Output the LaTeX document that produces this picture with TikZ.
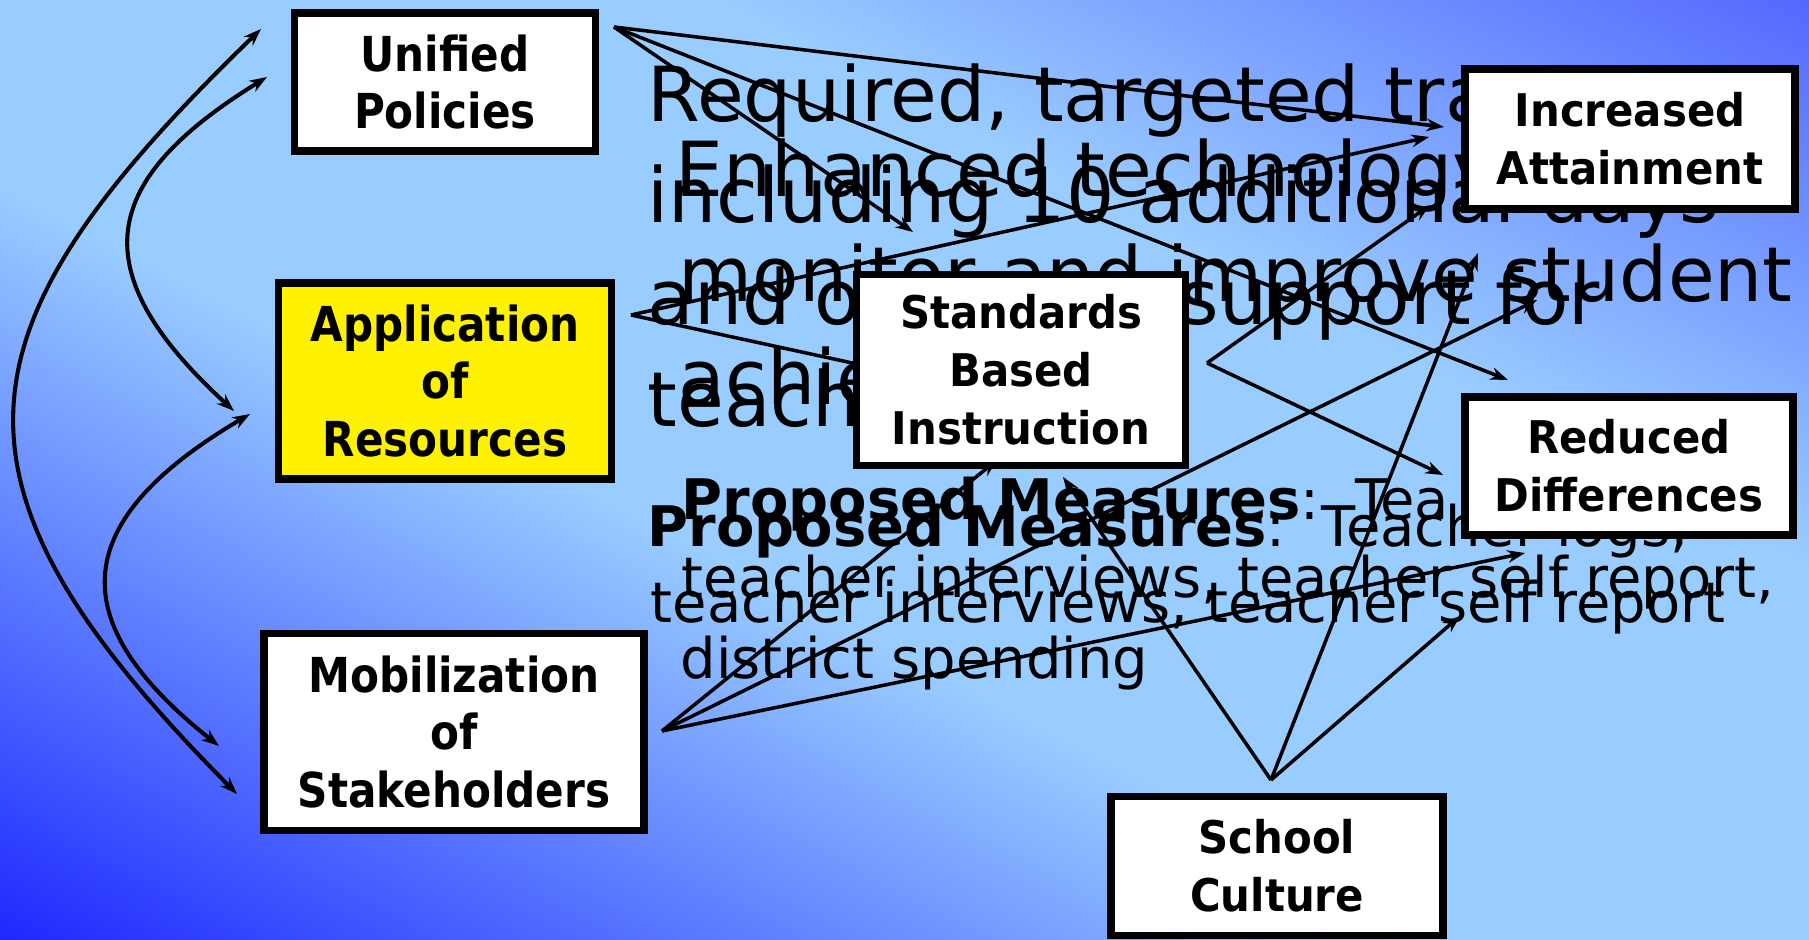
\documentclass[tikz,border=0pt]{standalone}
\usepackage{fontspec}
\setmainfont{DejaVu Sans}
\newfontfamily\lboxfont[FakeStretch=0.875]{DejaVu Sans}
\newfontfamily\rboxfont[FakeStretch=0.93]{DejaVu Sans}
\usetikzlibrary{arrows.meta}
\usepackage{xcolor}
\definecolor{bgdeep}{RGB}{30,40,255}
\definecolor{bglight}{RGB}{153,204,255}
\definecolor{bgtop}{RGB}{84,104,255}
\pgfdeclareverticalshading{slidebg}{100bp}{color(0bp)=(bgdeep); color(25bp)=(bgdeep); color(45bp)=(bglight); color(60bp)=(bglight); color(75bp)=(bgtop); color(100bp)=(bgtop)}

\begin{document}
\begin{tikzpicture}[x=0.01cm,y=-0.01cm]
\tikzset{
  lbox/.style={draw,line width=2.1pt,fill=white,align=center,inner sep=0pt,font=\lboxfont\bfseries\fontsize{13.7}{16.4}\selectfont},
  rbox/.style={draw,line width=2.1pt,fill=white,align=center,inner sep=0pt,font=\rboxfont\bfseries\fontsize{12.8}{16.5}\selectfont},
  bigtxt/.style={anchor=base west,inner sep=0pt,font=\fontsize{21.6}{26}\selectfont},
  midtxt/.style={anchor=base west,inner sep=0pt,font=\fontsize{15.9}{19}\selectfont},
  cause/.style={-{Stealth[length=5pt,width=3.6pt]},line width=1pt},
  swing/.style={{Stealth[length=5pt,width=3.6pt]}-{Stealth[length=5pt,width=3.6pt]},line width=1.15pt},
}
\useasboundingbox (0,0) rectangle (1809,940);
% slide background, dark in the lower left corner
\begin{scope}
\clip (0,0) rectangle (1809,940);
\begin{scope}[x=1cm,y=1cm,transform canvas={cm={18.09,-9.40,18.09,9.40,(0cm,-9.40cm)}}]
\shade[shading=slidebg] (-0.7,0) rectangle (0.7,1);
\end{scope}
\end{scope}

% text of the slide, two builds on top of each other
\node[bigtxt] (t-req) at (647,122) {Required, targeted tra};
\node[bigtxt] (t-incl) at (647,223) {including 10 additional days};
\node[bigtxt] (t-and) at (647,325) {and o};
\node[bigtxt] (t-supp) at (1179,325) {support for};
\node[bigtxt] (t-teach) at (647,427) {teach};
\node[bigtxt] (t-enh) at (675,197) {Enhanced technology};
\node[bigtxt] (t-mon) at (678,302) {monitor and improve student};
\node[bigtxt] (t-ach) at (678,405) {achie};
\node[midtxt] (t-pm1) at (681,520) {\textbf{Proposed Measures}:\ \ Tea};
\node[midtxt] (t-pm2) at (681,597) {teacher interviews, teacher self report,};
\node[midtxt] (t-pm3) at (680,678) {district spending};
\node[midtxt] (t-pm4) at (647,547) {\textbf{Proposed Measures}:\ \ Teacher logs,};
\node[midtxt] (t-pm5) at (650,623) {teacher interviews, teacher self report};

% ends of the arrows
\coordinate (up-o) at (614,27);
\coordinate (ar-o) at (631,315);
\coordinate (ms-o) at (662,731);
\coordinate (sbi-o) at (1207,363);
\coordinate (sc-o) at (1271,780);
\coordinate (ia-t1) at (1444,127);
\coordinate (ia-t2) at (1429,137);
\coordinate (ia-t3) at (1430,205);
\coordinate (ia-t4) at (1537,300);
\coordinate (ia-t5) at (1478,253);
\coordinate (sbi-t1) at (913,232);
\coordinate (sbi-t2) at (880,369);
\coordinate (sbi-t3) at (997,460);
\coordinate (sbi-t4) at (1063,477);
\coordinate (rd-t1) at (1508,380);
\coordinate (rd-t2) at (1443,475);
\coordinate (rd-t3) at (1525,553);
\coordinate (rd-t4) at (1460,616);
\coordinate (up-a) at (261,29);
\coordinate (up-b) at (267,77);
\coordinate (ar-a) at (234,411);
\coordinate (ar-b) at (250,414);
\coordinate (ms-a) at (219,746);
\coordinate (ms-b) at (237,794);

% these two run under the box
\draw[cause] (ar-o) -- (sbi-t2);
\draw[cause] (ms-o) -- (sbi-t3);

\node[lbox,minimum width=3.01cm,minimum height=1.38cm] (up) at (445,82) {Unified\\Policies};
\node[lbox,fill=yellow,minimum width=3.33cm,minimum height=1.96cm] (ar) at (445,381) {Application\\of\\Resources};
\node[lbox,minimum width=3.80cm,minimum height=1.97cm] (ms) at (454,732) {Mobilization\\of\\Stakeholders};
\node[rbox,minimum width=3.29cm,minimum height=1.91cm] (sbi) at (1021,370) {Standards\\Based\\Instruction};
\node[rbox,minimum width=3.30cm,minimum height=1.40cm] (ia) at (1630,139) {Increased\\Attainment};
\node[rbox,minimum width=3.28cm,minimum height=1.38cm] (rd) at (1629,466) {Reduced\\Differences};
\node[rbox,minimum width=3.32cm,minimum height=1.39cm] (sc) at (1277,866) {School\\Culture};

\draw[cause] (up-o) -- (ia-t1);
\draw[cause] (up-o) -- (sbi-t1);
\draw[cause] (up-o) -- (rd-t1);
\draw[cause] (ar-o) -- (ia-t2);
\draw[cause] (sbi-o) -- (ia-t3);
\draw[cause] (sbi-o) -- (rd-t2);
\draw[cause] (ms-o) -- (ia-t4);
\draw[cause] (ms-o) -- (rd-t3);
\draw[cause] (sc-o) -- (sbi-t4);
\draw[cause] (sc-o) -- (ia-t5);
\draw[cause] (sc-o) -- (rd-t4);

\draw[swing] (up-a) .. controls (-50,330) and (-75,480) .. (ms-b);
\draw[swing] (up-b) .. controls (100,180) and (80,270) .. (ar-a);
\draw[swing] (ar-b) .. controls (70,520) and (60,620) .. (ms-a);
\end{tikzpicture}
\end{document}
